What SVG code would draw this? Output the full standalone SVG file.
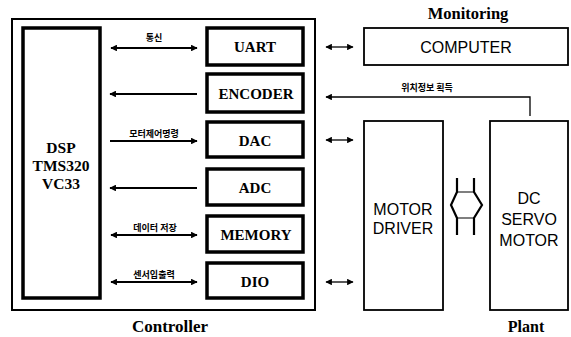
<svg xmlns="http://www.w3.org/2000/svg" width="571" height="337" viewBox="0 0 571 337">
<defs>
<style>
.tb{fill:none;stroke:#000;stroke-width:3.5}
.tn{fill:none;stroke:#000;stroke-width:1.8}
.ser{font-family:"Liberation Serif","Times New Roman",serif;font-weight:bold;text-anchor:middle;fill:#000}
.san{font-family:"Liberation Sans",Arial,sans-serif;text-anchor:middle;fill:#000;font-size:16px}
.kr{font-family:"Noto Sans CJK KR","Noto Sans",sans-serif;font-weight:bold;text-anchor:middle;fill:#000;font-size:9px}
.ln{fill:none;stroke:#000;stroke-width:2.2}
.lt{fill:none;stroke:#000;stroke-width:1.3}
</style>
<marker id="ah" viewBox="0 0 10 10" refX="9" refY="5" markerWidth="4.5" markerHeight="3" orient="auto-start-reverse" markerUnits="strokeWidth"><path d="M0,0 L10,5 L0,10 Z" fill="#000"/></marker>
<marker id="ah2" viewBox="0 0 10 10" refX="9" refY="5" markerWidth="6" markerHeight="5" orient="auto-start-reverse" markerUnits="strokeWidth"><path d="M0,0 L10,5 L0,10 Z" fill="#000"/></marker>
</defs>
<rect width="571" height="337" fill="#fff"/>
<g id="controller-frame"><rect x="12" y="19" width="303" height="291" fill="none" stroke="#000" stroke-width="2"/></g>
<g id="dsp"><rect class="tb" x="23" y="28" width="77" height="270"/>
<text class="ser" font-size="15.5" x="61" y="153">DSP</text><text class="ser" font-size="15.5" x="61" y="171">TMS320</text><text class="ser" font-size="15.5" x="61" y="189">VC33</text></g>
<g id="uart"><rect class="tb" x="207" y="28" width="96" height="37"/><text class="ser" font-size="15" x="255" y="52">UART</text></g>
<g id="encoder"><rect class="tb" x="207" y="74" width="96" height="38"/><text class="ser" font-size="15" x="256" y="99">ENCODER</text></g>
<g id="dac"><rect class="tb" x="207" y="122" width="96" height="35"/><text class="ser" font-size="15" x="255" y="146">DAC</text></g>
<g id="adc"><rect class="tb" x="207" y="169" width="96" height="36"/><text class="ser" font-size="15" x="255" y="193">ADC</text></g>
<g id="memory"><rect class="tb" x="207" y="216" width="96" height="36"/><text class="ser" font-size="15" x="256" y="240">MEMORY</text></g>
<g id="dio"><rect class="tb" x="207" y="263" width="96" height="35"/><text class="ser" font-size="15" x="255" y="287">DIO</text></g>
<g id="computer"><rect class="tn" x="364" y="28" width="204" height="37"/><text class="san" x="466" y="53">COMPUTER</text></g>
<g id="motor-driver"><rect class="tn" x="364" y="121" width="79" height="189"/><text class="san" x="403" y="215">MOTOR</text><text class="san" x="403" y="234">DRIVER</text></g>
<g id="dc-servo-motor"><rect class="tn" x="490" y="121" width="78" height="189"/><text class="san" x="529" y="204">DC</text><text class="san" x="529" y="225">SERVO</text><text class="san" x="529" y="246">MOTOR</text></g>
<g id="labels">
<text class="ser" font-size="16.5" x="468" y="19">Monitoring</text>
<text class="ser" font-size="17" x="170" y="332">Controller</text>
<text class="ser" font-size="16" x="526" y="332">Plant</text>
</g>
<g id="connectors">
<line class="ln" x1="111" y1="48" x2="197" y2="48" marker-start="url(#ah)" marker-end="url(#ah)"/>
<text class="kr" x="154" y="41">통신</text>
<line class="ln" x1="197" y1="94" x2="110" y2="94" marker-end="url(#ah)"/>
<line class="ln" x1="110" y1="141" x2="197" y2="141" marker-end="url(#ah)"/>
<text class="kr" x="154" y="137">모터제어명령</text>
<line class="ln" x1="197" y1="188" x2="110" y2="188" marker-end="url(#ah)"/>
<line class="ln" x1="111" y1="235" x2="197" y2="235" marker-start="url(#ah)" marker-end="url(#ah)"/>
<text class="kr" x="155" y="231">데이터 저장</text>
<line class="ln" x1="111" y1="282" x2="197" y2="282" marker-start="url(#ah)" marker-end="url(#ah)"/>
<text class="kr" x="154" y="278">센서입출력</text>
<line class="lt" x1="326" y1="47" x2="353" y2="47" marker-start="url(#ah2)" marker-end="url(#ah2)"/>
<line class="lt" x1="326" y1="140" x2="353" y2="140" marker-start="url(#ah2)" marker-end="url(#ah2)"/>
<line class="lt" x1="326" y1="282" x2="353" y2="282" marker-start="url(#ah2)" marker-end="url(#ah2)"/>
<polyline class="lt" points="530,116 530,97 326,97" marker-end="url(#ah2)"/>
<text class="kr" x="427" y="91">위치정보 획득</text>
<g id="coupling" fill="none" stroke="#000">
<path d="M457,178 V192 L451,205 L457,218 V235 M474,178 V192 L482,205 L474,218 V235" stroke-width="2.2"/>
<path d="M457,192 H474 M457,218 H474" stroke-width="1.2"/>
</g>
</g>
</svg>
